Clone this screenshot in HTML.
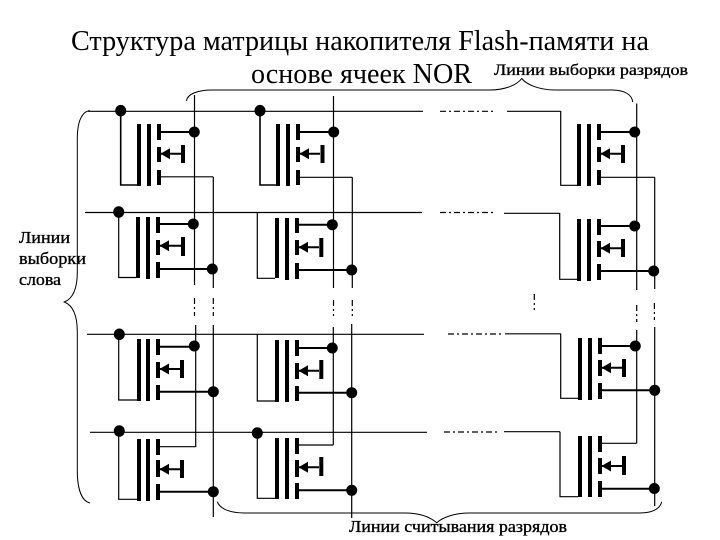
<!DOCTYPE html>
<html>
<head>
<meta charset="utf-8">
<style>
html,body{margin:0;padding:0;background:#fff;width:720px;height:540px;overflow:hidden}
svg{display:block}
text{font-family:"Liberation Serif","Noto Serif CJK SC",serif;fill:#000}
.w{stroke:#000;stroke-width:.35}
.t{fill:none;stroke:#000;stroke-width:1.2}
.s{fill:none;stroke:#000;stroke-width:2}
.d{fill:none;stroke:#000;stroke-width:1.2;stroke-dasharray:6 3 2 3}
.b{fill:none;stroke:#000;stroke-width:1}
</style>
</head>
<body>
<svg width="720" height="540" viewBox="0 0 720 540" xmlns="http://www.w3.org/2000/svg">
<rect width="720" height="540" fill="#fff"/>
<text x="71" y="50" font-size="28" textLength="578" lengthAdjust="spacingAndGlyphs">Структура матрицы накопителя Flash-памяти на</text>
<text x="251" y="83" font-size="28" textLength="221" lengthAdjust="spacingAndGlyphs">основе ячеек NOR</text>
<text class="w" x="494" y="75" font-size="16" textLength="194" lengthAdjust="spacingAndGlyphs">Линии выборки разрядов</text>
<text class="w" x="349" y="532" font-size="17" textLength="218" lengthAdjust="spacingAndGlyphs">Линии считывания разрядов</text>
<text class="w" x="19" y="243" font-size="17" textLength="51" lengthAdjust="spacingAndGlyphs">Линии</text>
<text class="w" x="19" y="264" font-size="17" textLength="67" lengthAdjust="spacingAndGlyphs">выборки</text>
<text class="w" x="19" y="285" font-size="17" textLength="42" lengthAdjust="spacingAndGlyphs">слова</text>

<!-- braces -->
<path class="b" d="M186.6 101C187 94 198 90 212 90H490C505 90 517 85 521.7 78.5C527 85 540 90 555 90H612C625 90 632 95 632.7 102"/>
<path class="b" d="M90 110.7C82 111 77.3 122 77.3 138V272C77.3 290 72 299 64.3 302C72 305 77.3 314 77.3 332V470C77.3 490 82 501 90 503"/>
<path class="b" d="M217.3 501.7C220 509 230 513 245 513H405C420 513 430 517 436.7 522.7C443 517 455 513 470 513H640C652 513 660 509 661.7 501.7"/>

<!-- word lines -->
<path class="t" d="M88 111.3H423M507 111.3H560.7"/>
<path class="t" d="M85 212.5H422M504 213.3H559.7"/>
<path class="t" d="M87 334.3H424M505 333.8H560.7"/>
<path class="t" d="M90 432.3H427M504 431.7H560"/>
<path class="d" d="M440 111.3H493M440 212.5H493M448 334H502M444 432H498"/>

<!-- bit lines -->
<path class="t" d="M194.5 95V285M213.3 177V288M195.7 325V447M213.3 325V517"/>
<path class="t" d="M333.5 96V288M352.3 177.3V288M333.3 327V445M351.7 324V518"/>
<path class="t" d="M636.7 103.5V290M654.7 177.3V289M636.7 330V443.3M654.7 327V506"/>
<path class="d" d="M194.5 298V316M213.3 298V316M333.5 300V316M352.3 300V316M534.3 294V310M636.7 305V322M654.4 303V320"/>

<!-- gate wires -->
<path class="s" d="M120.7 111V185H137" style="stroke-width:1.6"/>
<path class="t" d="M118.7 212V277.5H136M118.7 334V400H137M118.7 431V499.3H137"/>
<path class="s" d="M260 111V185H276" style="stroke-width:1.6"/>
<path class="t" d="M257.3 212.5V278.3H275M257.3 334V401H275M257.3 433V498.3H275"/>
<path class="t" d="M560.7 111V185.3H577M559.7 213V279.3H577M560.7 333.5V398.3H578M560 431.7V496.7H578"/>

<!-- plates and segments, column 1 -->
<g fill="#000">
<rect x="137" y="124" width="4" height="62"/><rect x="147" y="124" width="4" height="62"/>
<rect x="157" y="124" width="4" height="16"/><rect x="157" y="147" width="4" height="15"/><rect x="157" y="170" width="4" height="15"/>
<rect x="181" y="145" width="4" height="18"/><polygon points="160.5,153.7 170,148.2 170,159.2"/>

<rect x="136" y="217" width="4" height="61"/><rect x="146" y="217" width="4" height="62"/>
<rect x="156" y="217" width="4" height="16"/><rect x="156" y="240" width="4" height="15"/><rect x="156" y="262" width="4" height="16"/>
<rect x="181" y="237" width="4" height="19"/><polygon points="159.5,245.7 169,240.2 169,251.2"/>

<rect x="137" y="339" width="4" height="62"/><rect x="146" y="339" width="4" height="62"/>
<rect x="156" y="339" width="4" height="16"/><rect x="156" y="362" width="4" height="16"/><rect x="156" y="385" width="4" height="15"/>
<rect x="180" y="360" width="4" height="18"/><polygon points="159.5,369 169,363.5 169,374.5"/>

<rect x="137" y="439" width="4" height="62"/><rect x="146" y="439" width="4" height="62"/>
<rect x="156" y="439" width="4" height="16"/><rect x="156" y="460" width="4" height="17"/><rect x="156" y="484" width="4" height="16"/>
<rect x="180" y="460" width="4" height="18"/><polygon points="159.5,469.3 169,463.8 169,474.8"/>

<!-- column 2 -->
<rect x="276" y="124" width="4" height="62"/><rect x="286" y="124" width="4" height="62"/>
<rect x="296" y="124" width="4" height="16"/><rect x="296" y="147" width="4" height="15"/><rect x="296" y="170" width="4" height="15"/>
<rect x="320.5" y="145" width="4" height="18"/><polygon points="299.5,153.7 309,148.2 309,159.2"/>

<rect x="275" y="218" width="4" height="60"/><rect x="285" y="218" width="4" height="62"/>
<rect x="295" y="218" width="4" height="15"/><rect x="295" y="240" width="4" height="15"/><rect x="295" y="263" width="4" height="16"/>
<rect x="319.3" y="238" width="4" height="19"/><polygon points="298.5,247.3 308,241.8 308,252.8"/>

<rect x="275" y="340" width="4" height="62"/><rect x="285" y="340" width="4" height="62"/>
<rect x="295" y="340" width="4" height="16"/><rect x="295" y="363" width="4" height="16"/><rect x="295" y="386" width="4" height="15"/>
<rect x="319.3" y="360" width="4" height="19"/><polygon points="298.5,370.7 308,365.2 308,376.2"/>

<rect x="275" y="438" width="4" height="61"/><rect x="285" y="438" width="4" height="61"/>
<rect x="295" y="438" width="4" height="16"/><rect x="295" y="460" width="4" height="17"/><rect x="295" y="483" width="4" height="16"/>
<rect x="319.3" y="457" width="4" height="19"/><polygon points="298.5,467.3 308,461.8 308,472.8"/>

<!-- column 3 -->
<rect x="577" y="124" width="4" height="62"/><rect x="587" y="124" width="4" height="62"/>
<rect x="597" y="124" width="4" height="16"/><rect x="597" y="147" width="4" height="15"/><rect x="597" y="170" width="4" height="15"/>
<rect x="621" y="145" width="4" height="18"/><polygon points="600.5,153.7 610,148.2 610,159.2"/>

<rect x="577" y="219" width="4" height="62"/><rect x="587" y="219" width="4" height="62"/>
<rect x="597" y="219" width="4" height="16"/><rect x="597" y="241" width="4" height="16"/><rect x="597" y="264" width="4" height="16"/>
<rect x="621" y="239" width="4" height="18"/><polygon points="600.5,248.3 610,242.8 610,253.8"/>

<rect x="578" y="338" width="4" height="62"/><rect x="588" y="338" width="4" height="62"/>
<rect x="598" y="338" width="4" height="16"/><rect x="598" y="360" width="4" height="16"/><rect x="598" y="383" width="4" height="16"/>
<rect x="622" y="359" width="4" height="18"/><polygon points="601.5,367.7 611,362.2 611,373.2"/>

<rect x="578" y="436" width="4" height="61"/><rect x="588" y="436" width="4" height="61"/>
<rect x="598" y="436" width="4" height="16"/><rect x="598" y="458" width="4" height="16"/><rect x="598" y="481" width="4" height="16"/>
<rect x="622" y="456" width="4" height="19"/><polygon points="601.5,466 611,460.5 611,471.5"/>
</g>

<!-- source, diode, drain leads -->
<path class="s" d="M161 132H194M161 153.7H181M160 224H193M160 245.7H181M160 269H212M160 346.7H194M160 369H180M160 391.7H213M160 469.3H180M160 491.7H213"/>
<path class="s" d="M300 132H333M300 153.7H320M299 224.7H332M299 247.3H319M299 270H351M299 348H332M299 370.7H319M299 392.7H351M299 467.3H319M299 490.3H351"/>
<path class="s" d="M601 132H634M601 153.7H621M601 226H634M601 248.3H621M601 271H653M602 346H635M602 367.7H622M602 390.3H654M602 466H622M602 488.7H654"/>
<path class="t" d="M161 176.8H213.3M160 446.7H195.7M300 177.3H352.3M299 445H333.3M601 177.3H654.7M602 443.3H636.7"/>

<!-- dots -->
<g fill="#000">
<ellipse cx="120.7" cy="110.7" rx="5.5" ry="5.8"/><ellipse cx="118.7" cy="212" rx="5.5" ry="5.8"/><ellipse cx="119.3" cy="334.3" rx="5.5" ry="5.8"/><ellipse cx="119.3" cy="431" rx="5.5" ry="5.8"/>
<ellipse cx="260" cy="110.7" rx="5.5" ry="5.8"/><ellipse cx="257.3" cy="433" rx="5.5" ry="5.8"/>
<circle cx="194.3" cy="132" r="5.5"/><circle cx="193.3" cy="224" r="5.5"/><circle cx="212.3" cy="269" r="5.5"/><circle cx="194.3" cy="346" r="5.5"/><circle cx="213.3" cy="391.7" r="5.5"/><circle cx="213.3" cy="491.7" r="5.5"/>
<circle cx="333.7" cy="132" r="5.5"/><circle cx="332.3" cy="224.7" r="5.5"/><circle cx="351.7" cy="270" r="5.5"/><circle cx="332.3" cy="348" r="5.5"/><circle cx="351.7" cy="392.7" r="5.5"/><circle cx="351.7" cy="490.3" r="5.5"/>
<circle cx="634.7" cy="132" r="5.5"/><circle cx="634.7" cy="226" r="5.5"/><circle cx="653.7" cy="271" r="5.5"/><circle cx="635.3" cy="346" r="5.5"/><circle cx="654.7" cy="390.3" r="5.5"/><circle cx="654.3" cy="488.5" r="5.5"/>
</g>
</svg>
</body>
</html>
